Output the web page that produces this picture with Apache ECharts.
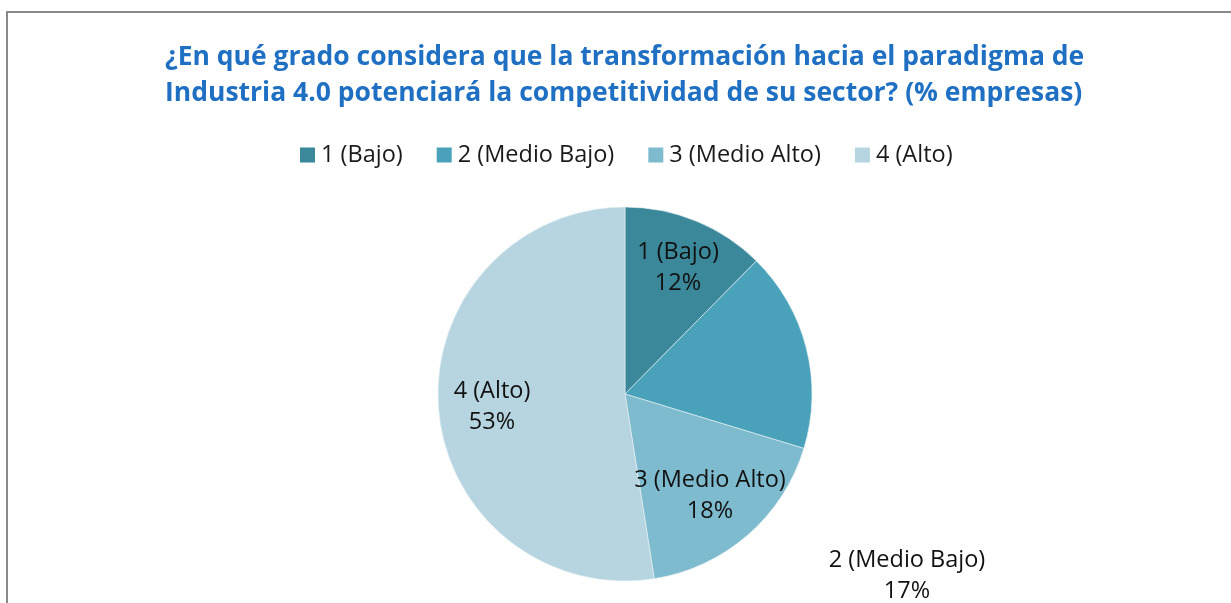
<!DOCTYPE html>
<html>
<head>
<meta charset="utf-8">
<script src="https://cdn.jsdelivr.net/npm/echarts@6/dist/echarts.min.js"></script>
<style>
  html, body { margin: 0; padding: 0; background: #fff; }
  #chart { width: 1231px; height: 603px; }
</style>
</head>
<body>
<div id="chart"></div>
<script>
// categories and shares (% empresas)
var categories = ['1 (Bajo)', '2 (Medio Bajo)', '3 (Medio Alto)', '4 (Alto)'];
var shares = [12.4, 17.3, 17.8, 52.5];
var colors = ['#3b889a', '#49a2ba', '#7fbbcf', '#b6d5e0'];
var titleText = '¿En qué grado considera que la transformación hacia el paradigma de\nIndustria 4.0 potenciará la competitividad de su sector? (% empresas)';

// where each data label sits (label placement only)
var labelPos = [[678, 268], [907, 576], [710, 496], [492, 407]];

var font = 'Open Sans';
var myChart = echarts.init(document.getElementById('chart'));

var option = {
    backgroundColor: '#fff',
    animation: false,
    title: {
        text: titleText,
        left: 160,
        top: 34,
        textStyle: {
            fontFamily: font,
            fontSize: 26.5,
            fontWeight: 'bold',
            color: '#1f70c2',
            lineHeight: 36
        }
    },
    legend: {
        data: categories,
        top: 138,
        left: 295,
        icon: 'rect',
        itemWidth: 15,
        itemHeight: 15,
        itemGap: 34,
        itemStyle: { borderWidth: 0 },
        textStyle: {
            fontFamily: font,
            fontSize: 23.5,
            color: '#1a1a1a',
            padding: [0, 0, 0, 1]
        }
    },
    graphic: [{
        type: 'rect',
        silent: true,
        shape: { x: 7, y: 12, width: 1240, height: 620 },
        style: { fill: 'none', stroke: '#898989', lineWidth: 2 }
    }],
    color: colors,
    series: [{
        type: 'pie',
        center: [625, 394],
        radius: 187,
        startAngle: 90,
        clockwise: true,
        percentPrecision: 0,
        itemStyle: { borderColor: '#e8f2f5', borderWidth: 0.6 },
        label: {
            show: true,
            position: 'inside',
            formatter: '{b}\n{d}%',
            fontFamily: font,
            fontSize: 23.5,
            lineHeight: 31,
            color: '#111'
        },
        labelLine: { show: false },
        labelLayout: function (p) {
            var pos = labelPos[p.dataIndex];
            return { x: pos[0], y: pos[1], align: 'center', verticalAlign: 'middle' };
        },
        emphasis: { disabled: true },
        data: categories.map(function (c, i) {
            return { name: c, value: shares[i] };
        })
    }]
};

myChart.setOption(option);
</script>
</body>
</html>
